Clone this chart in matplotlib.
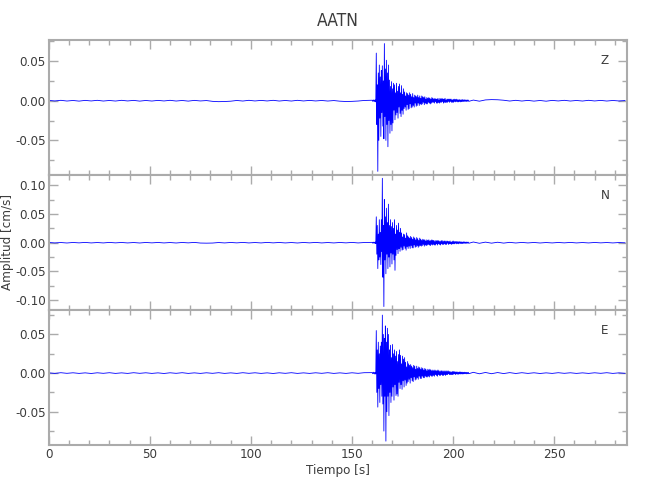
import numpy as np
import matplotlib
matplotlib.use("Agg")
import matplotlib.pyplot as plt
from matplotlib.ticker import MultipleLocator, FormatStrFormatter

# Station and components
station = "AATN"
components = ["Z", "N", "E"]

# Sampling of the three record segments (seconds)
pre_t0, pre_dt = 0.0, 3.0
evt_t0, evt_dt = 160.0, 0.25
post_t0, post_dt = 210.0, 3.0

# Z component (cm/s)
z_pre = [0.0004, -0.0003, 0.0005, -0.0004, 0.0003, -0.0005, 0.0004, -0.0003, 0.0005, -0.0004,
         0.0003, -0.0004, 0.0005, -0.0003, 0.0004, -0.0005, 0.0003, -0.0004, 0.0004, -0.0003,
         0.0005, -0.0004, 0.0003, -0.0005, 0.0004, -0.0003, 0.0002, -0.0008, -0.0012, -0.0010,
         -0.0006, 0.0003, -0.0004, 0.0005, -0.0003, 0.0004, -0.0003, 0.0005, -0.0004, 0.0003,
         -0.0004, 0.0005, -0.0003, 0.0004, -0.0003, 0.0003, -0.0004, 0.0002, -0.0006, -0.0010,
         -0.0008, -0.0004, 0.0003]
z_evt = [0.0006, -0.0008, 0.0010, -0.0006, 0.0008, -0.0012, 0.0010, -0.0015,
         0.060, -0.030, 0.020, -0.089, 0.035, -0.050, 0.045, -0.022,
         0.030, -0.045, 0.038, -0.015, 0.044, -0.032, 0.025, -0.048,
         0.072, -0.020, 0.040, -0.050, 0.051, -0.030, 0.035, -0.058,
         0.045, -0.025, 0.026, -0.041, 0.018, -0.030, 0.024, -0.038,
         0.015, -0.028, 0.022, -0.012, 0.020, -0.024, 0.010, -0.018,
         0.022, -0.015, 0.012, -0.022, 0.018, -0.008, 0.021, -0.016,
         0.010, -0.020, 0.019, -0.012, 0.008, -0.017, 0.015, -0.010,
         0.011, -0.008, 0.006, -0.012, 0.010, -0.005, 0.009, -0.011,
         0.007, -0.010, 0.010, -0.004, 0.008, -0.009, 0.005, -0.008,
         0.009, -0.006, 0.004, -0.008, 0.007, -0.003, 0.006, -0.007,
         0.005, -0.006, 0.007, -0.003, 0.004, -0.006, 0.006, -0.004,
         0.003, -0.005, 0.006, -0.004, 0.005, -0.002, 0.004, -0.005,
         0.005, -0.003, 0.002, -0.004, 0.004, -0.004, 0.003, -0.002,
         0.004, -0.003, 0.003, -0.004, 0.002, -0.003, 0.004, -0.002,
         0.003, -0.002, 0.002, -0.003, 0.003, -0.001, 0.002, -0.003,
         0.002, -0.003, 0.003, -0.002, 0.001, -0.003, 0.003, -0.002,
         0.002, -0.002, 0.003, -0.001, 0.002, -0.003, 0.002, -0.002,
         0.003, -0.002, 0.001, -0.002, 0.002, -0.002, 0.002, -0.001,
         0.002, -0.002, 0.002, -0.001, 0.002, -0.002, 0.001, -0.002,
         0.0015, -0.002, 0.002, -0.001, 0.0015, -0.0015, 0.002, -0.001,
         0.0015, -0.0015, 0.001, -0.0015, 0.0015, -0.001, 0.001, -0.0015,
         0.001, -0.0012, 0.0015, -0.001, 0.001, -0.001, 0.0012, -0.0008,
         0.001, -0.0008, 0.0008, -0.001, 0.001, -0.0006, 0.0008, -0.0008]
z_post = [0.0008, -0.0006, 0.0010, 0.0014, 0.0012, 0.0006, -0.0004, 0.0005, -0.0004, 0.0004,
          -0.0005, 0.0003, -0.0006, 0.0004, -0.0003, 0.0005, -0.0004, 0.0003, -0.0004, 0.0005,
          -0.0003, 0.0004, -0.0004, 0.0003, -0.0003, 0.0002]

# N component (cm/s)
n_pre = [0.0004, -0.0004, 0.0003, -0.0005, 0.0004, -0.0003, 0.0005, -0.0004, 0.0003, -0.0004,
         0.0005, -0.0003, 0.0004, -0.0004, 0.0003, -0.0005, 0.0004, -0.0003, 0.0004, -0.0004,
         0.0003, -0.0005, 0.0004, -0.0003, 0.0005, -0.0006, -0.0008, -0.0006, 0.0003, -0.0004,
         0.0004, -0.0003, 0.0005, -0.0004, 0.0003, -0.0004, 0.0005, -0.0003, 0.0004, -0.0004,
         0.0003, -0.0005, 0.0004, -0.0003, 0.0005, -0.0004, 0.0003, -0.0004, 0.0004, -0.0003,
         0.0005, -0.0004, 0.0003]
n_evt = [0.0006, -0.0008, 0.0010, -0.0006, 0.0008, -0.0010, 0.0012, -0.0015,
         0.045, -0.020, 0.030, -0.045, 0.015, -0.030, 0.040, -0.025,
         0.018, -0.038, 0.040, -0.015, 0.112, -0.060, 0.030, -0.111,
         0.075, -0.030, 0.045, -0.054, 0.060, -0.020, 0.035, -0.045,
         0.067, -0.025, 0.030, -0.042, 0.040, -0.018, 0.028, -0.037,
         0.035, -0.020, 0.025, -0.030, 0.040, -0.048, 0.015, -0.022,
         0.030, -0.012, 0.022, -0.019, 0.034, -0.010, 0.018, -0.015,
         0.025, -0.008, 0.017, -0.013, 0.010, -0.012, 0.015, -0.006,
         0.014, -0.010, 0.008, -0.013, 0.017, -0.007, 0.012, -0.010,
         0.010, -0.006, 0.008, -0.010, 0.011, -0.005, 0.009, -0.009,
         0.006, -0.009, 0.010, -0.004, 0.008, -0.008, 0.005, -0.007,
         0.009, -0.005, 0.007, -0.008, 0.004, -0.006, 0.008, -0.005,
         0.006, -0.006, 0.004, -0.005, 0.006, -0.003, 0.005, -0.006,
         0.005, -0.004, 0.003, -0.005, 0.005, -0.004, 0.004, -0.003,
         0.005, -0.004, 0.003, -0.005, 0.004, -0.003, 0.005, -0.004,
         0.004, -0.003, 0.004, -0.004, 0.002, -0.004, 0.004, -0.002,
         0.003, -0.004, 0.004, -0.002, 0.003, -0.003, 0.002, -0.004,
         0.003, -0.002, 0.004, -0.003, 0.002, -0.003, 0.003, -0.002,
         0.003, -0.003, 0.002, -0.003, 0.003, -0.001, 0.002, -0.003,
         0.002, -0.002, 0.003, -0.002, 0.001, -0.003, 0.002, -0.002,
         0.003, -0.002, 0.002, -0.002, 0.002, -0.001, 0.002, -0.002,
         0.002, -0.0015, 0.0015, -0.002, 0.002, -0.001, 0.0015, -0.0015,
         0.0015, -0.0015, 0.001, -0.0015, 0.0015, -0.001, 0.0015, -0.001,
         0.001, -0.0012, 0.0012, -0.001, 0.001, -0.0008, 0.001, -0.001]
n_post = [0.0012, -0.0010, 0.0010, -0.0008, 0.0008, -0.0007, 0.0006, -0.0005, 0.0005, -0.0004,
          0.0004, -0.0005, 0.0003, -0.0004, 0.0004, -0.0003, 0.0005, -0.0004, 0.0003, -0.0004,
          0.0004, -0.0003, 0.0003, -0.0004, 0.0003, -0.0002]

# E component (cm/s)
e_pre = [0.0003, -0.0004, 0.0005, -0.0003, 0.0004, -0.0004, 0.0003, -0.0005, 0.0004, -0.0003,
         0.0005, -0.0004, 0.0003, -0.0004, 0.0005, -0.0003, 0.0004, -0.0004, 0.0003, -0.0005,
         0.0004, -0.0003, 0.0005, -0.0004, 0.0003, -0.0004, 0.0004, -0.0003, 0.0005, -0.0004,
         0.0003, -0.0004, 0.0005, -0.0003, 0.0004, -0.0004, 0.0003, -0.0005, 0.0004, -0.0003,
         0.0005, -0.0004, 0.0003, -0.0004, 0.0004, -0.0003, 0.0005, -0.0004, 0.0003, -0.0004,
         0.0004, -0.0003, 0.0005]
e_evt = [0.0006, -0.0008, 0.0012, -0.0006, 0.0008, -0.0012, 0.0010, -0.0012,
         0.055, -0.025, 0.030, -0.044, 0.040, -0.020, 0.025, -0.038,
         0.035, -0.015, 0.040, -0.030, 0.075, -0.040, 0.050, -0.075,
         0.045, -0.030, 0.061, -0.088, 0.040, -0.050, 0.058, -0.030,
         0.050, -0.055, 0.030, -0.025, 0.036, -0.038, 0.020, -0.030,
         0.037, -0.018, 0.025, -0.035, 0.030, -0.015, 0.022, -0.029,
         0.028, -0.027, 0.015, -0.030, 0.024, -0.012, 0.030, -0.020,
         0.023, -0.015, 0.012, -0.021, 0.022, -0.010, 0.018, -0.018,
         0.020, -0.009, 0.014, -0.016, 0.008, -0.013, 0.015, -0.011,
         0.012, -0.008, 0.010, -0.013, 0.011, -0.006, 0.009, -0.010,
         0.007, -0.011, 0.010, -0.005, 0.009, -0.009, 0.005, -0.008,
         0.009, -0.006, 0.006, -0.008, 0.008, -0.004, 0.007, -0.007,
         0.005, -0.007, 0.007, -0.004, 0.006, -0.006, 0.004, -0.006,
         0.006, -0.004, 0.005, -0.005, 0.003, -0.005, 0.005, -0.004,
         0.004, -0.005, 0.005, -0.003, 0.004, -0.004, 0.003, -0.004,
         0.004, -0.003, 0.003, -0.004, 0.004, -0.002, 0.003, -0.003,
         0.003, -0.004, 0.004, -0.002, 0.003, -0.003, 0.002, -0.003,
         0.003, -0.002, 0.003, -0.003, 0.002, -0.003, 0.003, -0.002,
         0.002, -0.003, 0.003, -0.002, 0.002, -0.002, 0.003, -0.001,
         0.002, -0.002, 0.002, -0.002, 0.001, -0.002, 0.002, -0.002,
         0.002, -0.0015, 0.002, -0.001, 0.0015, -0.002, 0.0015, -0.001,
         0.0015, -0.0015, 0.001, -0.0015, 0.0015, -0.001, 0.0015, -0.0012,
         0.0012, -0.001, 0.0012, -0.0012, 0.001, -0.001, 0.0012, -0.0008,
         0.001, -0.0008, 0.001, -0.001, 0.0008, -0.0008, 0.001, -0.0008]
e_post = [0.0010, -0.0009, 0.0008, -0.0008, 0.0007, -0.0006, 0.0006, -0.0005, 0.0005, -0.0004,
          0.0004, -0.0005, 0.0003, -0.0004, 0.0005, -0.0003, 0.0004, -0.0004, 0.0003, -0.0004,
          0.0004, -0.0003, 0.0005, -0.0004, 0.0003, -0.0003]

# Axis ranges
x_max = 286.0
y_limits = [(-0.0936, 0.0765), (-0.117, 0.1177), (-0.093, 0.0816)]


def build_trace(pre, evt, post):
    t = np.concatenate([pre_t0 + pre_dt * np.arange(len(pre)),
                        evt_t0 + evt_dt * np.arange(len(evt)),
                        post_t0 + post_dt * np.arange(len(post))])
    v = np.concatenate([pre, evt, post])
    return t, v


traces = [build_trace(z_pre, z_evt, z_post),
          build_trace(n_pre, n_evt, n_post),
          build_trace(e_pre, e_evt, e_post)]

plt.rcParams['font.family'] = ['DejaVu Sans']
plt.rcParams['font.stretch'] = 'condensed'
axis_gray = '#ababab'
text_gray = '#3c3c3c'

fig = plt.figure(figsize=(6.5, 5), dpi=100)
left, right, top, bottom = 0.075, 0.9646, 0.92, 0.11
h = (top - bottom) / 3

axes = []
for i, (comp, (t, v), ylim) in enumerate(zip(components, traces, y_limits)):
    ax = fig.add_axes([left, top - (i + 1) * h, right - left, h])
    ax.plot(t, v, color='blue', lw=0.6)
    ax.set_xlim(0, x_max)
    ax.set_ylim(*ylim)
    ax.xaxis.set_major_locator(MultipleLocator(50))
    ax.xaxis.set_minor_locator(MultipleLocator(10))
    ax.yaxis.set_major_locator(MultipleLocator(0.05))
    ax.yaxis.set_minor_locator(MultipleLocator(0.025))
    ax.yaxis.set_major_formatter(FormatStrFormatter('%.2f'))
    ax.tick_params(which='both', direction='in', top=True, right=True,
                   color=axis_gray, labelcolor=text_gray, labelsize=9.5, width=1, pad=2)
    ax.tick_params(which='major', length=6.5)
    ax.tick_params(which='minor', length=3.3)
    for sp in ax.spines.values():
        sp.set_color(axis_gray)
        sp.set_linewidth(1.5)
    if i < 2:
        ax.tick_params(labelbottom=False)
    ax.text(0.962, 0.845, comp, transform=ax.transAxes, ha='center', va='center',
            fontsize=9.5, color=text_gray)
    axes.append(ax)

axes[0].set_title(station, fontsize=12.5, color=text_gray, pad=10)
axes[1].set_ylabel("Amplitud [cm/s]", fontsize=9.5, color=text_gray, labelpad=1)
axes[2].set_xlabel("Tiempo [s]", fontsize=9.5, color=text_gray, labelpad=2)

fig.savefig("out.png", dpi=100)
